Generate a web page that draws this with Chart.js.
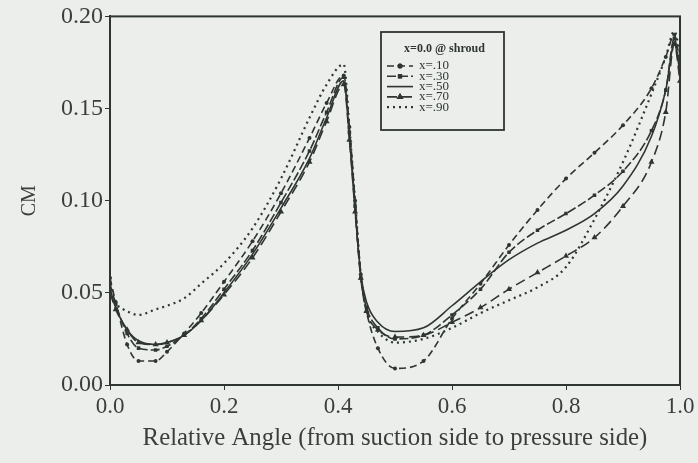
<!DOCTYPE html>
<html>
<head>
<meta charset="utf-8">
<script src="https://cdn.jsdelivr.net/npm/chart.js@4.4.1/dist/chart.umd.min.js"></script>
<style>
  html, body { margin: 0; padding: 0; background: #eceeec; }
  #wrap { width: 698px; height: 463px; }
</style>
</head>
<body>
<div id="wrap"><canvas id="cmChart" width="698" height="463"></canvas></div>
<script>
// Relative angle (0 = suction side, 1 = pressure side)
const angles = [0, 0.01, 0.03, 0.05, 0.08, 0.10, 0.13, 0.16, 0.20, 0.25, 0.30, 0.35, 0.38, 0.41, 0.42, 0.43,
  0.44, 0.45, 0.47, 0.50, 0.55, 0.60, 0.65, 0.70, 0.75, 0.80, 0.85, 0.90, 0.95, 0.975, 0.99, 1.0];

// CM at each spanwise station
const cm10 = [0.058, 0.045, 0.022, 0.013, 0.013, 0.018, 0.028, 0.039, 0.056, 0.078, 0.104, 0.134, 0.153, 0.168, 0.140, 0.100,
  0.060, 0.040, 0.020, 0.009, 0.013, 0.036, 0.055, 0.076, 0.095, 0.112, 0.126, 0.141, 0.161, 0.178, 0.190, 0.175];
const cm30 = [0.055, 0.044, 0.028, 0.020, 0.019, 0.021, 0.027, 0.036, 0.052, 0.073, 0.099, 0.127, 0.148, 0.167, 0.137, 0.097,
  0.058, 0.042, 0.031, 0.025, 0.027, 0.038, 0.052, 0.072, 0.084, 0.093, 0.103, 0.116, 0.138, 0.160, 0.188, 0.170];
const cm50 = [0.052, 0.042, 0.030, 0.024, 0.022, 0.023, 0.027, 0.035, 0.050, 0.071, 0.096, 0.123, 0.145, 0.165, 0.135, 0.095,
  0.060, 0.045, 0.034, 0.029, 0.031, 0.043, 0.056, 0.068, 0.077, 0.084, 0.093, 0.108, 0.135, 0.160, 0.185, 0.170];
const cm70 = [0.050, 0.041, 0.030, 0.023, 0.022, 0.023, 0.027, 0.035, 0.049, 0.069, 0.094, 0.121, 0.143, 0.163, 0.133, 0.094,
  0.058, 0.040, 0.030, 0.026, 0.027, 0.034, 0.042, 0.052, 0.061, 0.070, 0.080, 0.097, 0.121, 0.148, 0.185, 0.165];
const cm90 = [0.048, 0.044, 0.040, 0.038, 0.041, 0.043, 0.047, 0.055, 0.066, 0.085, 0.112, 0.145, 0.163, 0.174, 0.140, 0.100,
  0.060, 0.040, 0.029, 0.023, 0.025, 0.031, 0.039, 0.046, 0.053, 0.064, 0.090, 0.121, 0.158, 0.178, 0.192, 0.180];

const seriesLabels = ["x=.10", "x=.30", "x=.50", "x=.70", "x=.90"];
const legendTitle = "x=0.0 @ shroud";
const xTicks = [0, 0.2, 0.4, 0.6, 0.8, 1.0];
const yTicks = [0, 0.05, 0.10, 0.15, 0.20];

const ink = "#2e3532";
const textInk = "#3a3f3c";
const serif = "'Liberation Serif', 'Times New Roman', serif";

function pts(ys) {
  return angles.map((a, i) => ({ x: a, y: ys[i] }));
}

const styles = [
  { dash: [7, 4], point: "circle", r: 2 },
  { dash: [9, 3], point: "rect", r: 2.5 },
  { dash: [], point: false, r: 0 },
  { dash: [10, 5], point: "triangle", r: 3.5 },
  { dash: [2, 4], point: false, r: 0 },
];
const series = [cm10, cm30, cm50, cm70, cm90];

const datasets = series.map((ys, i) => ({
  label: seriesLabels[i],
  data: pts(ys),
  borderColor: ink,
  backgroundColor: ink,
  borderWidth: i === 4 ? 2.2 : 1.6,
  borderDash: styles[i].dash,
  pointStyle: styles[i].point || "circle",
  pointRadius: styles[i].r,
  pointBorderWidth: 0,
  cubicInterpolationMode: "monotone",
  fill: false,
}));

// frame on top and right of the plot
const frame = {
  id: "frame",
  afterDraw(chart) {
    const { ctx, chartArea: a } = chart;
    ctx.save();
    ctx.strokeStyle = ink;
    ctx.lineWidth = 2;
    ctx.strokeRect(a.left, a.top, a.right - a.left, a.bottom - a.top);
    ctx.restore();
  },
};

// boxed legend inside the plot
const legendBox = {
  id: "legendBox",
  afterDraw(chart) {
    const ctx = chart.ctx;
    const x0 = 381, y0 = 32, w = 123, h = 98;
    ctx.save();
    ctx.fillStyle = "#eceeec";
    ctx.fillRect(x0, y0, w, h);
    ctx.strokeStyle = ink;
    ctx.lineWidth = 1.8;
    ctx.strokeRect(x0, y0, w, h);
    ctx.fillStyle = ink;
    ctx.font = "bold 12px " + serif;
    ctx.textAlign = "center";
    ctx.textBaseline = "middle";
    ctx.fillText(legendTitle, x0 + w / 2 + 2, y0 + 17);
    ctx.textAlign = "left";
    ctx.font = "13px " + serif;
    chart.data.datasets.forEach((ds, i) => {
      const y = y0 + 34 + i * 10.3;
      ctx.beginPath();
      ctx.setLineDash(ds.borderDash);
      ctx.lineWidth = ds.borderWidth;
      ctx.moveTo(x0 + 6, y);
      ctx.lineTo(x0 + 32, y);
      ctx.stroke();
      ctx.setLineDash([]);
      if (ds.pointRadius > 0) {
        Chart.helpers.drawPoint(ctx, { pointStyle: ds.pointStyle, radius: ds.pointRadius + 0.5, borderWidth: 0 }, x0 + 19, y);
        ctx.fill();
      }
      ctx.fillText(ds.label, x0 + 38, y);
    });
    ctx.restore();
  },
};

new Chart(document.getElementById("cmChart"), {
  type: "line",
  data: { datasets },
  options: {
    responsive: false,
    devicePixelRatio: 1,
    animation: false,
    layout: { padding: { left: 0, top: 15, right: 18, bottom: 0 } },
    plugins: { legend: { display: false }, tooltip: { enabled: false } },
    scales: {
      x: {
        type: "linear",
        min: 0,
        max: 1,
        afterFit: (s) => { s.height = 78; },
        afterBuildTicks: (s) => { s.ticks = xTicks.map((v) => ({ value: v })); },
        grid: { display: true, drawOnChartArea: false, tickLength: 5, color: ink, lineWidth: 1 },
        border: { color: ink, width: 2 },
        ticks: {
          color: textInk,
          font: { family: serif, size: 23 },
          padding: 3,
          maxRotation: 0,
          callback: (v) => Number(v).toFixed(1),
        },
        title: {
          display: true,
          text: "Relative Angle (from suction side to pressure side)",
          color: textInk,
          font: { family: serif, size: 24.8 },
          padding: { top: 0, bottom: 10 },
        },
      },
      y: {
        type: "linear",
        min: 0,
        max: 0.2,
        afterFit: (s) => { s.width = 110; },
        afterBuildTicks: (s) => { s.ticks = yTicks.map((v) => ({ value: v })); },
        grid: { display: true, drawOnChartArea: false, tickLength: 5, color: ink, lineWidth: 1 },
        border: { color: ink, width: 2 },
        ticks: {
          color: textInk,
          font: { family: serif, size: 24 },
          padding: 2,
          callback: (v) => Number(v).toFixed(2),
        },
        title: {
          display: true,
          text: "CM",
          color: textInk,
          font: { family: serif, size: 20 },
          padding: { top: 18, bottom: 0 },
        },
      },
    },
  },
  plugins: [frame, legendBox],
});
</script>
</body>
</html>
